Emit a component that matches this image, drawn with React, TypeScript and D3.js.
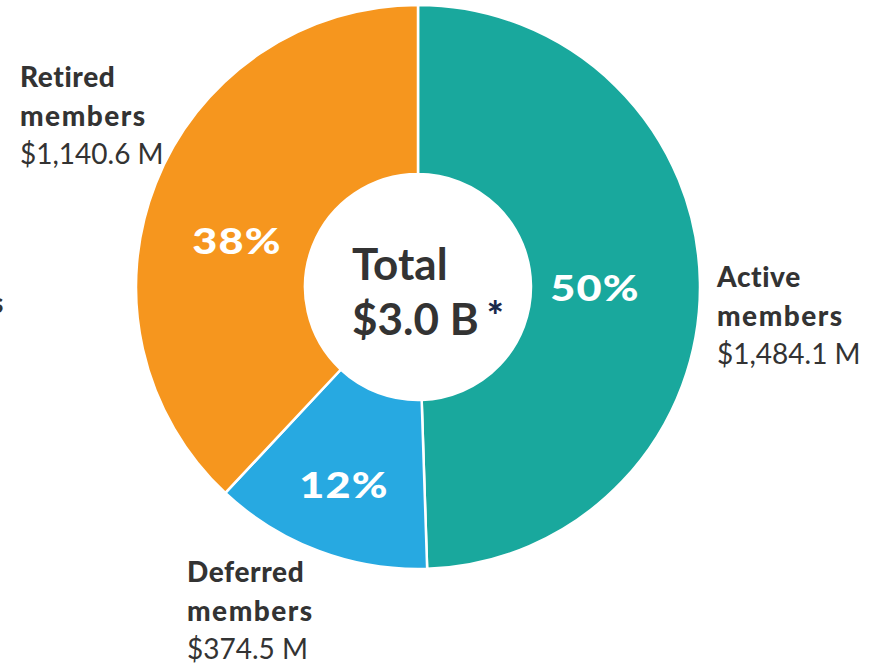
import React, { useEffect, useRef } from "react";
import * as d3 from "d3";

// member groups, clockwise from 12 o'clock
const groups = ["Active", "Deferred", "Retired"];
const amounts = [1484.1, 374.5, 1140.6];
const amountLabels = ["$1,484.1 M", "$374.5 M", "$1,140.6 M"];
const percentLabels = ["50%", "12%", "38%"];
const colors = ["#19a89d", "#27a9e1", "#f6961e"];

const W = 869,
  H = 667;

const App = () => {
  const svgRef = useRef<SVGSVGElement>(null);

  useEffect(() => {
    const svg = d3.select(svgRef.current);
    svg.selectAll("*").remove();

    const cx = 418,
      cy = 287,
      outer = 282,
      inner = 113;

    const g = svg.append("g").attr("transform", `translate(${cx},${cy})`);

    const pie = d3
      .pie<number>()
      .sort(null)
      .value((d) => d);
    const arcs = pie(amounts);
    const arc = d3.arc<d3.PieArcDatum<number>>().innerRadius(inner).outerRadius(outer);

    g.selectAll("path")
      .data(arcs)
      .enter()
      .append("path")
      .attr("d", arc)
      .attr("fill", (d, i) => colors[i])
      .attr("stroke", "#fff")
      .attr("stroke-width", 2.5);

    // percentage labels inside the ring (placed by hand like the original)
    const pctPos = [
      [177, 1],
      [-74, 198],
      [-181, -46],
    ];
    g.selectAll("text.pct")
      .data(arcs)
      .enter()
      .append("text")
      .attr("class", "pct")
      .attr("transform", (d, i) => `translate(${pctPos[i][0]},${pctPos[i][1]}) scale(1.17,1)`)
      .attr("dy", "0.36em")
      .attr("text-anchor", "middle")
      .style("font-family", "Lato")
      .style("font-weight", 900)
      .style("font-size", "37px")
      .style("letter-spacing", "1px")
      .style("fill", "#fff")
      .text((d, i) => percentLabels[i]);

    // centre total
    const total = d3.sum(amounts) / 1000;
    g.append("text")
      .attr("x", -66)
      .attr("y", -7)
      .style("font-family", "Lato")
      .style("font-weight", 700)
      .style("font-size", "44px")
      .style("fill", "#333")
      .text("Total");
    const tot = g
      .append("text")
      .attr("x", -66)
      .attr("y", 48)
      .style("font-family", "Lato")
      .style("font-weight", 700)
      .style("font-size", "44px")
      .style("fill", "#333");
    tot.append("tspan").text(`$${total.toFixed(1)} B`);
    tot
      .append("tspan")
      .attr("dx", 8)
      .attr("dy", -4)
      .style("font-size", "40px")
      .style("font-weight", 900)
      .style("fill", "#1b2b4c")
      .text("*");

    // outside labels
    const labelPos = [
      [717, 287],
      [187, 582],
      [20, 87],
    ];
    groups.forEach((name, i) => {
      const t = svg
        .append("text")
        .attr("x", labelPos[i][0])
        .attr("y", labelPos[i][1])
        .style("font-family", "Lato")
        .style("font-size", "28px")
        .style("fill", "#333");
      t.append("tspan").style("font-weight", 900).style("letter-spacing", "0.6px").text(name);
      t.append("tspan")
        .attr("x", labelPos[i][0])
        .attr("dy", 39)
        .style("font-weight", 900)
        .style("letter-spacing", "1.5px")
        .text("members");
      t.append("tspan")
        .attr("x", labelPos[i][0])
        .attr("dy", 38)
        .style("font-weight", 400)
        .text(amountLabels[i]);
    });

    // cut-off label at the left edge
    svg
      .append("text")
      .attr("x", 5)
      .attr("y", 313)
      .attr("text-anchor", "end")
      .style("font-family", "Lato")
      .style("font-weight", 900)
      .style("font-size", "28px")
      .style("letter-spacing", "1.5px")
      .style("fill", "#333")
      .text("members");
  }, []);

  return (
    <div style={{ position: "absolute", left: 0, top: 0, background: "#fff" }}>
      <svg ref={svgRef} width={W} height={H} style={{ display: "block" }} />
    </div>
  );
};

export default App;
